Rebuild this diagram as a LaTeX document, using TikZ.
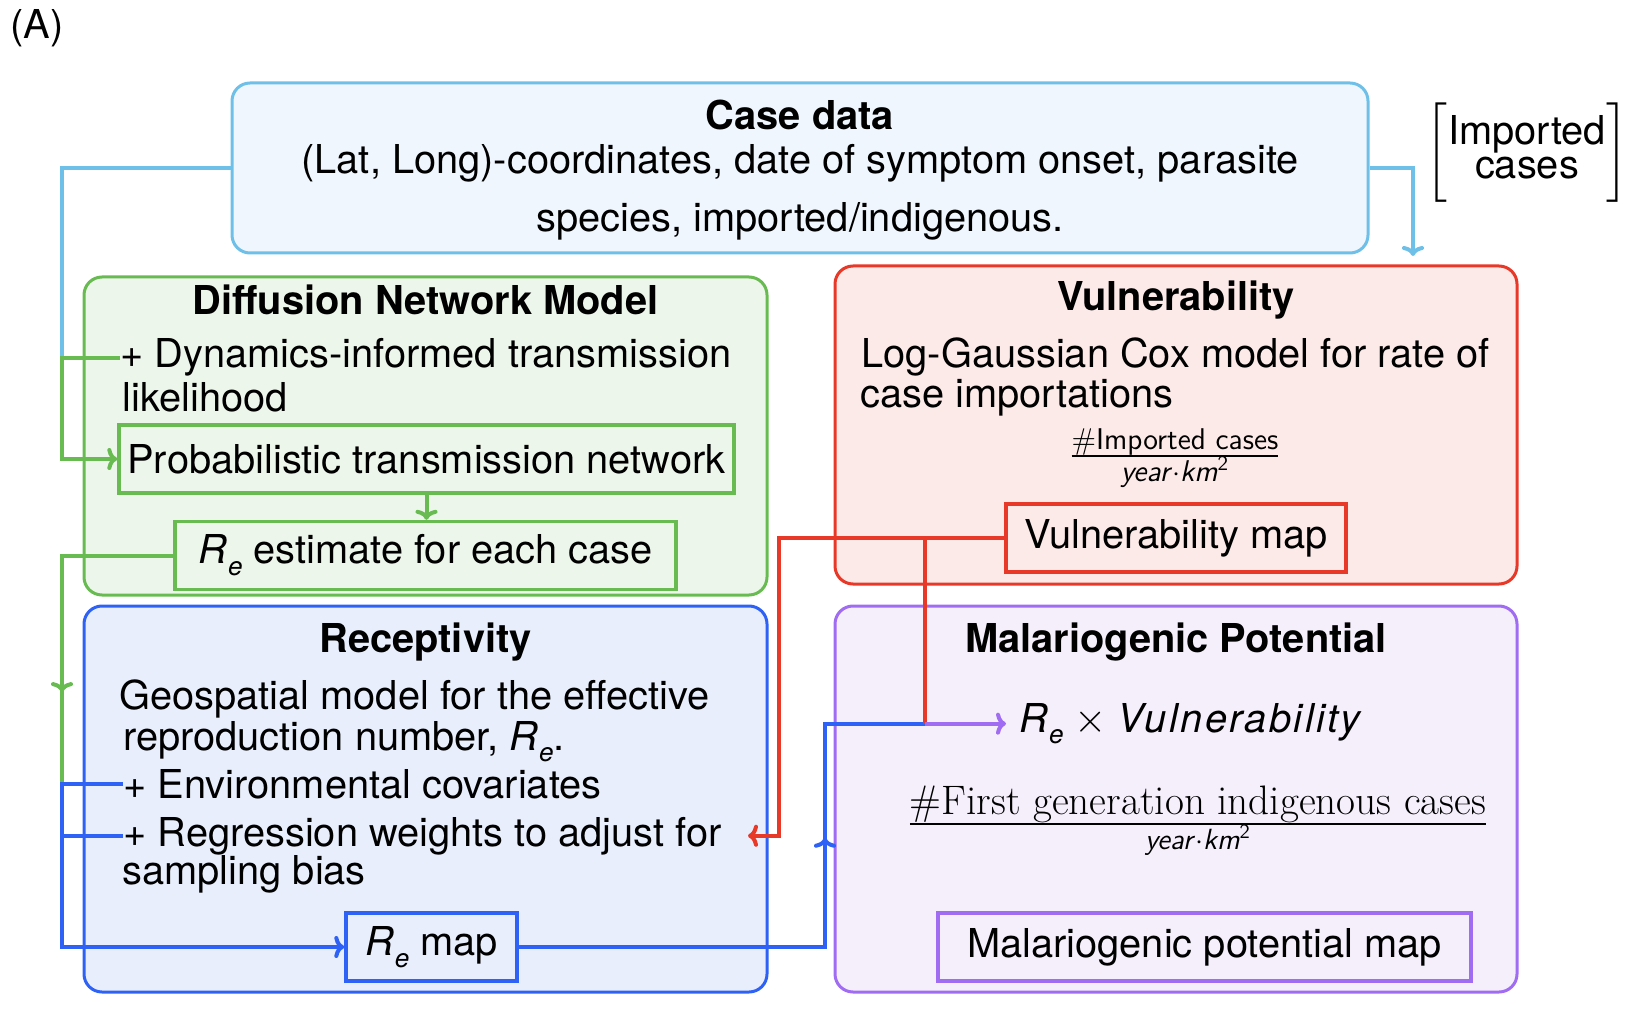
\documentclass[tikz,border=0pt]{standalone}
\usepackage{amsmath}
\usepackage{fontspec}
\newfontfamily\heros{TeX Gyre Heros}
\usepackage{xcolor}
\usetikzlibrary{arrows.meta,decorations.markings}

\definecolor{caseline}{RGB}{110,192,232}
\definecolor{casefill}{RGB}{239,246,253}
\definecolor{dnmline}{RGB}{103,187,80}
\definecolor{dnmfill}{RGB}{237,246,235}
\definecolor{vulline}{RGB}{232,56,40}
\definecolor{vulfill}{RGB}{252,234,232}
\definecolor{recline}{RGB}{46,98,246}
\definecolor{recfill}{RGB}{232,238,252}
\definecolor{malline}{RGB}{160,108,242}
\definecolor{malfill}{RGB}{245,239,252}

\newcommand{\Rsub}{\textit{R}\kern0.5pt\raisebox{-0.3em}{\fontsize{13}{13}\selectfont\textit{e}}}
\newcommand{\perunit}[2]{{\setlength{\arrayrulewidth}{0.8pt}\begin{tabular}{@{}c@{}}#1\\\hline #2\end{tabular}}}

\begin{document}
\begin{tikzpicture}[
    x=0.5pt, y=-0.5pt,
    >={To[length=5pt,width=11pt]},
    every node/.style={font={\heros\fontsize{19.9}{21.5}\selectfont}},
    bigbox/.style={rectangle, draw, rounded corners=9pt, line width=1.5pt},
    casebox/.style={bigbox, draw=caseline, fill=casefill, minimum width=568pt, minimum height=85pt},
    dnmbox/.style={bigbox, draw=dnmline, fill=dnmfill, minimum width=341.5pt, minimum height=159pt},
    vulbox/.style={bigbox, draw=vulline, fill=vulfill, minimum width=341pt, minimum height=159pt},
    recbox/.style={bigbox, draw=recline, fill=recfill, minimum width=341.5pt, minimum height=193pt},
    malbox/.style={bigbox, draw=malline, fill=malfill, minimum width=341pt, minimum height=193pt},
    mapbox/.style={rectangle, draw, line width=1.7pt, inner sep=0pt, minimum height=34pt},
    boxtitle/.style={anchor=base, inner sep=0pt, font={\heros\bfseries\fontsize{19.9}{21.5}\selectfont}},
    textline/.style={anchor=base west, inner sep=0pt},
    flow/.style={line width=2pt},
    arrow/.style={flow, ->},
    midarrow/.style={postaction={decorate}, decoration={markings, mark=at position #1 with {\arrow{>}}}}
]
\useasboundingbox (0,0) rectangle (1632,1010);

% Panel label
\node[textline] (panel) at (10,39) {(A)};

% Outer boxes
\node[casebox] (casedata) at (800,168) {};
\node[dnmbox] (diffusion) at (425.5,436) {};
\node[vulbox] (vulner) at (1176,425) {};
\node[recbox] (recept) at (425.5,799) {};
\node[malbox] (malario) at (1176,799) {};

% Case data
\node[boxtitle] (casetitle) at (800,130) {Case data};
\node[textline, anchor=base] (caseinfo) at (800,174) {(Lat, Long)-coordinates, date of symptom onset, parasite};
\node[textline, anchor=base] (casetype) at (800,232) {species, imported/indigenous.};
\node[inner sep=0pt, font={\heros\fontsize{19.9}{17}\selectfont}] (imported) at (1527,153.5)
    {$\left[\vrule height 21pt depth 21pt width 0pt\kern0.5pt\begin{tabular}{@{}c@{}}Imported\\cases\end{tabular}\kern0.5pt\right]$};

% Diffusion network model
\node[boxtitle] (dnmtitle) at (425.5,315) {Diffusion Network Model};
\node[textline] (dynamics) at (120,368) {+ Dynamics-informed transmission};
\node[textline] (likely) at (122,411) {likelihood};
\node[mapbox, draw=dnmline, fill=dnmfill, minimum width=307.5pt] (probnet) at (426.5,459) {Probabilistic transmission network};
\node[mapbox, draw=dnmline, fill=dnmfill, minimum width=250.5pt] (reest) at (425.5,555.5) {\Rsub{} estimate for each case};

% Vulnerability
\node[boxtitle] (vultitle) at (1176,311) {Vulnerability};
\node[textline] (coxmodel) at (861,368) {Log-Gaussian Cox model for rate of};
\node[textline] (importation) at (860,408) {case importations};
\node[inner sep=0pt, font={\fontsize{15}{9}\selectfont}] (impfrac) at (1175,458)
    {\perunit{\textsf{\#Imported cases}}{\textsf{\itshape year}$\cdot$\textsf{\itshape km}\textsuperscript{\sffamily 2}}};
\node[mapbox, draw=vulline, fill=vulfill, minimum width=170pt] (vulmap) at (1176,538) {Vulnerability map};

% Receptivity
\node[boxtitle] (rectitle) at (425.5,652) {Receptivity};
\node[textline] (geomodel) at (119,709) {Geospatial model for the effective};
\node[textline] (repnum) at (123,750) {reproduction number, \Rsub.};
\node[textline] (envcov) at (123,798) {+ Environmental covariates};
\node[textline] (regw) at (123,846) {+ Regression weights to adjust for};
\node[textline] (sampling) at (122,884) {sampling bias};
\node[mapbox, draw=recline, fill=recfill, minimum width=85.5pt] (remap) at (431.5,947) {\Rsub{} map};

% Malariogenic potential
\node[boxtitle] (maltitle) at (1176,652) {Malariogenic Potential};
\node[textline, inner xsep=6.5pt] (product) at (1006,732)
    {\Rsub{} $\times$ {\itshape\addfontfeature{LetterSpace=6}Vulnerability}};
\node[inner sep=0pt, font={\fontsize{14.6}{14}\selectfont}] (firstfrac) at (1198,822)
    {\perunit{\fontsize{20.6}{14}\selectfont\textrm{\#First generation indigenous cases}}{\textsf{\itshape year}$\cdot$\textsf{\itshape km}\textsuperscript{\sffamily 2}}};
\node[mapbox, draw=malline, fill=malfill, minimum width=266.5pt] (mpmap) at (1204.5,947) {Malariogenic potential map};

% Rails
\coordinate (leftrail) at (62,0);
\coordinate (redrail) at (779,0);
\coordinate (redtip) at (748,0);
\coordinate (bluerail) at (825,0);
\coordinate (joinx) at (925,0);
\coordinate (importin) at (1413,256);

% Case data feeds
\draw[flow, caseline] (casedata.west) -| (leftrail |- dynamics.west);
\draw[arrow, caseline] (casedata.east) -| (importin);

% Diffusion network flow
\draw[arrow, dnmline] (dynamics.west) -| (leftrail |- probnet.west) -- (probnet.west);
\draw[arrow, dnmline] (probnet.south) -- (probnet.south |- reest.north);
\draw[flow, dnmline, midarrow=0.73] (reest.west) -| (leftrail |- envcov.west);

% Receptivity flow
\draw[arrow, recline] (envcov.west) -| (leftrail |- remap.west) -- (remap.west);
\draw[flow, recline] (regw.west) -- (leftrail |- regw.west);
\draw[flow, recline, midarrow=0.66] (remap.east) -| (bluerail |- product.west) -- (joinx |- product.west);

% Vulnerability flow
\draw[arrow, vulline] (vulmap.west) -| (redrail |- regw.west) -- (redtip |- regw.west);
\draw[flow, vulline] (vulmap.west -| joinx) -- (joinx |- product.west);

% Malariogenic potential
\draw[arrow, malline] (joinx |- product.west) -- (product.west);

\end{tikzpicture}
\end{document}
